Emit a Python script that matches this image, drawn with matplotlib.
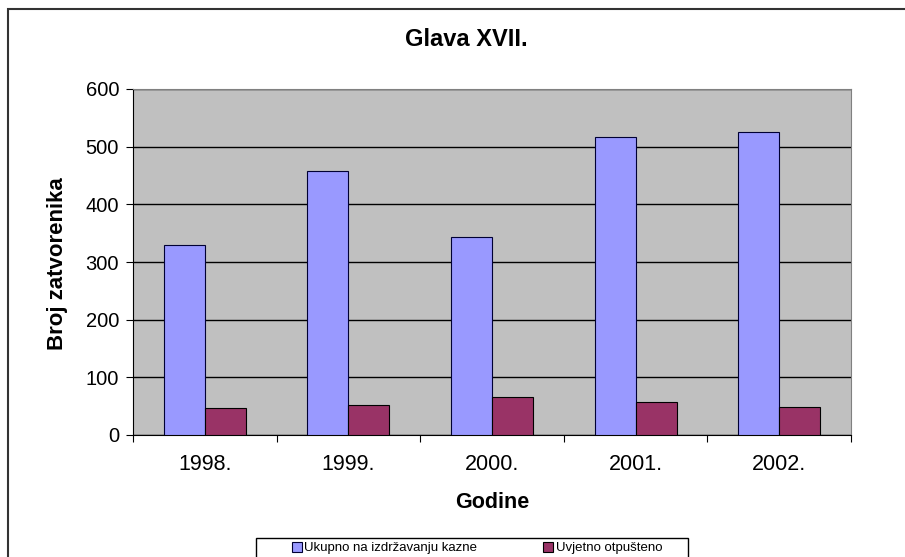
import numpy as np
import matplotlib.pyplot as plt
from matplotlib.patches import Rectangle

years = ['1998.', '1999.', '2000.', '2001.', '2002.']
ukupno = [330, 457, 343, 517, 526]
uvjetno = [46, 52, 66, 57, 49]

plt.rcParams['font.family'] = ['Liberation Sans', 'DejaVu Sans']

W, H = 905, 557
fig = plt.figure(figsize=(W / 100, H / 100), dpi=100)

# outer chart border (runs off the right and bottom edges)
fig.patches.append(Rectangle((8 / W, -0.1), 1.2, 1 - 9 / H + 0.1,
                             transform=fig.transFigure, fill=False,
                             edgecolor='#333333', linewidth=1.5))

x0, x1 = 133, 851
y0, y1 = 89, 435
ax = fig.add_axes([x0 / W, 1 - y1 / H, (x1 - x0) / W, (y1 - y0) / H])
ax.set_facecolor('#C0C0C0')

x = np.arange(len(years))
bw = 0.286
ax.bar(x - bw / 2, ukupno, bw, color='#9999FF', edgecolor='#000033',
       linewidth=0.8, label='Ukupno na izdržavanju kazne', zorder=3)
ax.bar(x + bw / 2, uvjetno, bw, color='#993366', edgecolor='#000000',
       linewidth=0.8, label='Uvjetno otpušteno', zorder=3)

ax.set_xlim(-0.5, len(years) - 0.5)
ax.set_ylim(0, 600)
ax.set_yticks(np.arange(0, 601, 100))
ax.yaxis.grid(True, color='black', linewidth=1, zorder=1)
ax.set_axisbelow(True)

# category ticks sit between the groups, labels in the middle
ax.set_xticks(np.arange(-0.5, len(years), 1.0))
ax.set_xticklabels([])
ax.set_xticks(x, minor=True)
ax.set_xticklabels(years, minor=True)
ax.tick_params(axis='x', which='minor', length=0, labelsize=15.5, pad=14)
ax.tick_params(axis='x', which='major', length=5, direction='out', color='black')
ax.tick_params(axis='y', length=5, direction='out', labelsize=14.5, pad=5)

for side in ['top', 'right']:
    ax.spines[side].set_color('#808080')
ax.spines['left'].set_color('black')
ax.spines['bottom'].set_color('black')

fig.text(466 / W, 1 - 40 / H, 'Glava XVII.', ha='center', va='center',
         fontsize=17, fontweight='bold')
fig.text(57 / W, 1 - 264 / H, 'Broj zatvorenika', ha='center', va='center',
         rotation=90, fontsize=16, fontweight='bold')
fig.text((x0 + x1) / 2 / W, 1 - 503 / H, 'Godine', ha='center', va='center',
         fontsize=15.5, fontweight='bold')

# legend box runs off the bottom edge, so draw its frame by hand
fig.patches.append(Rectangle((256 / W, -0.1), 432 / W, (557 - 538) / H + 0.1,
                             transform=fig.transFigure, fill=False,
                             edgecolor='black', linewidth=1))
leg = fig.legend(loc='upper center', ncol=2,
                 bbox_to_anchor=(477 / W, 1 - 542 / H),
                 bbox_transform=fig.transFigure, fontsize=9.5,
                 frameon=False, handlelength=0.75, handleheight=0.75,
                 handletextpad=0.2, columnspacing=5.0,
                 borderaxespad=0, borderpad=0)

fig.savefig('out.png', dpi=100)
